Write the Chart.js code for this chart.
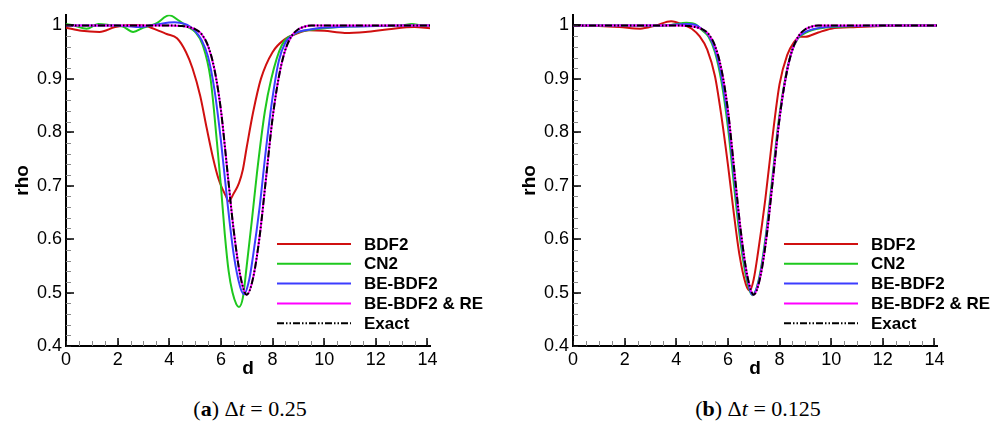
<!DOCTYPE html>
<html>
<head>
<meta charset="utf-8">
<script src="https://cdn.jsdelivr.net/npm/chart.js@4.4.0/dist/chart.umd.min.js"></script>
<style>
  body { margin: 0; background: #fff; width: 997px; height: 430px; position: relative; overflow: hidden; }
  .panel { position: absolute; top: 0; width: 490px; height: 380px; }
  .caption { position: absolute; top: 396px; width: 300px; text-align: center; font-family: 'Liberation Serif', serif; font-size: 22px; color: #000; }
</style>
</head>
<body>
<div class="panel" style="left:0"><canvas id="chartA"></canvas></div>
<div class="panel" style="left:507px"><canvas id="chartB"></canvas></div>
<div class="caption" style="left:100px">(<b>a</b>) &Delta;<i>t</i> = 0.25</div>
<div class="caption" style="left:608px">(<b>b</b>) &Delta;<i>t</i> = 0.125</div>
<script>
// ticks
var xTicks = [0, 2, 4, 6, 8, 10, 12, 14];
var yTicks = [0.4, 0.5, 0.6, 0.7, 0.8, 0.9, 1.0];
var yTickLabels = ['0.4', '0.5', '0.6', '0.7', '0.8', '0.9', '1'];
var labels = ['BDF2', 'CN2', 'BE-BDF2', 'BE-BDF2 & RE', 'Exact'];

// exact solution (same in both panels, BE-BDF2 & RE sits on it)
var xExact = [0, 1, 2, 3, 4, 4.5, 4.75, 5, 5.25, 5.5, 5.75, 6, 6.25, 6.5, 6.75, 7, 7.25, 7.5, 7.75, 8, 8.25, 8.5, 8.75, 9, 9.25, 9.5, 10, 11, 12, 13, 14.1];
var yExact = [1, 1, 1, 1, 1, 0.999, 0.997, 0.993, 0.984, 0.962, 0.918, 0.842, 0.728, 0.615, 0.532, 0.496, 0.528, 0.605, 0.715, 0.826, 0.905, 0.955, 0.981, 0.993, 0.998, 1, 1, 1, 1, 1, 1];

// panel (a) dt = 0.25
var xRedA = [0, 0.6, 1.3, 1.9, 2.5, 3.0, 3.6, 3.9, 4.3, 4.65, 4.9, 5.2, 5.45, 5.7, 5.9, 6.05, 6.18, 6.3, 6.5, 6.7, 6.85, 7.0, 7.25, 7.55, 8.0, 8.5, 8.9, 9.4, 10, 10.8, 11.6, 12.5, 13.5, 14.1];
var yRedA = [0.996, 0.99, 0.988, 0.997, 1.001, 1.0, 0.99, 0.984, 0.976, 0.95, 0.92, 0.868, 0.808, 0.751, 0.714, 0.695, 0.682, 0.671, 0.686, 0.705, 0.73, 0.772, 0.838, 0.9, 0.95, 0.975, 0.984, 0.991, 0.99, 0.986, 0.988, 0.993, 0.997, 0.995];
var xGreenA = [0, 0.3, 0.8, 1.25, 1.8, 2.2, 2.6, 3.0, 3.5, 4.0, 4.4, 4.7, 5.0, 5.3, 5.6, 5.85, 6.0, 6.15, 6.3, 6.45, 6.6, 6.7, 6.85, 7.0, 7.2, 7.4, 7.7, 7.95, 8.35, 8.9, 9.5, 10, 11, 12, 13, 13.4, 13.8, 14.1];
var yGreenA = [1.003, 1.0, 0.994, 1.003, 1.0, 0.998, 0.988, 0.996, 1.004, 1.019, 1.008, 0.998, 0.988, 0.963, 0.9, 0.78, 0.7, 0.61, 0.54, 0.5, 0.478, 0.473, 0.49, 0.55, 0.635, 0.725, 0.838, 0.9, 0.962, 0.985, 0.992, 0.995, 0.998, 0.999, 1.0, 1.003, 1.0, 1.0];
var xBlueA = [0, 1, 2, 2.8, 3.5, 4.2, 4.6, 4.8, 5, 5.25, 5.5, 5.75, 6, 6.25, 6.5, 6.75, 6.9, 7.1, 7.25, 7.5, 7.75, 8, 8.25, 8.5, 8.75, 9, 9.5, 10, 11, 12, 13, 14.1];
var yBlueA = [1, 1, 1, 0.997, 1.002, 1.006, 1.003, 0.998, 0.99, 0.973, 0.942, 0.88, 0.785, 0.67, 0.57, 0.51, 0.497, 0.525, 0.57, 0.66, 0.77, 0.865, 0.935, 0.968, 0.981, 0.988, 0.993, 0.996, 0.998, 0.999, 1, 1];

// panel (b) dt = 0.125
var xRedB = [0, 1, 1.8, 2.6, 3.2, 3.8, 4.3, 4.6, 4.9, 5.2, 5.5, 5.75, 6.0, 6.2, 6.45, 6.7, 6.85, 7.0, 7.17, 7.45, 7.7, 8.0, 8.3, 8.55, 8.8, 9.0, 9.5, 10, 11, 12, 13, 14.1];
var yRedB = [1.0, 0.999, 0.997, 0.994, 1.0, 1.008, 1.001, 0.994, 0.98, 0.955, 0.905, 0.83, 0.74, 0.66, 0.57, 0.515, 0.504, 0.525, 0.576, 0.675, 0.78, 0.89, 0.945, 0.968, 0.979, 0.979, 0.987, 0.994, 0.997, 0.999, 1.0, 1.0];
var xGreenB = [0, 1, 2, 3.2, 3.8, 4.4, 4.75, 5, 5.25, 5.5, 5.75, 6, 6.25, 6.5, 6.75, 6.95, 7.2, 7.45, 7.7, 7.95, 8.2, 8.45, 8.7, 9, 9.3, 9.6, 10, 11, 12, 13, 14.1];
var yGreenB = [1, 1, 1, 0.999, 1.001, 1.005, 1.002, 0.991, 0.979, 0.95, 0.895, 0.81, 0.695, 0.59, 0.52, 0.495, 0.525, 0.6, 0.705, 0.815, 0.895, 0.948, 0.975, 0.986, 0.992, 0.995, 0.997, 0.999, 1, 1, 1];
var xBlueB = [0, 1, 2, 3.2, 3.8, 4.4, 4.75, 5, 5.25, 5.5, 5.75, 6, 6.25, 6.5, 6.75, 6.95, 7.2, 7.45, 7.7, 7.95, 8.2, 8.45, 8.7, 9, 9.3, 9.6, 10, 11, 12, 13, 14.1];
var yBlueB = [1, 1, 1, 1, 1.001, 1.003, 1.001, 0.993, 0.982, 0.955, 0.905, 0.825, 0.712, 0.603, 0.527, 0.496, 0.522, 0.594, 0.698, 0.808, 0.892, 0.948, 0.976, 0.988, 0.993, 0.996, 0.998, 0.999, 1, 1, 1];

var colors = ['#d01010', '#1ec81e', '#3c3cff', '#ff00ff', '#000000'];
var exactDash = [7, 2, 1.5, 2, 1.5, 2];

function series(i, xs, ys) {
    return {
        label: labels[i],
        data: xs.map(function (v, k) { return { x: v, y: ys[k] }; }),
        borderColor: colors[i],
        borderWidth: 2,
        borderDash: i === 4 ? exactDash : [],
        pointRadius: 0,
        fill: false,
        cubicInterpolationMode: 'monotone',
        order: 4 - i
    };
}

// ticks drawn inside the axes, like the original plot
var innerTicks = {
    id: 'innerTicks',
    afterDraw: function (chart) {
        var ctx = chart.ctx, a = chart.chartArea, x = chart.scales.x, y = chart.scales.y;
        ctx.save();
        ctx.strokeStyle = '#8a8a8a';
        ctx.lineWidth = 1;
        ctx.beginPath();
        for (var i = 0; i <= 28; i++) {
            var px = Math.round(x.getPixelForValue(i * 0.5)) + 0.5;
            ctx.moveTo(px, a.bottom); ctx.lineTo(px, a.bottom - 5);
        }
        for (var j = 0; j <= 30; j++) {
            var py = Math.round(y.getPixelForValue(0.4 + j * 0.02)) + 0.5;
            ctx.moveTo(a.left, py); ctx.lineTo(a.left + 5, py);
        }
        ctx.stroke();
        ctx.strokeStyle = '#000';
        ctx.lineWidth = 1.5;
        ctx.beginPath();
        xTicks.forEach(function (v) {
            var px = Math.round(x.getPixelForValue(v));
            ctx.moveTo(px, a.bottom); ctx.lineTo(px, a.bottom - 8);
        });
        yTicks.forEach(function (v) {
            var py = Math.round(y.getPixelForValue(v));
            ctx.moveTo(a.left, py); ctx.lineTo(a.left + 8, py);
        });
        ctx.stroke();
        ctx.restore();
    }
};

// legend inside the plot, lower right
var lineLegend = {
    id: 'lineLegend',
    afterDraw: function (chart) {
        var ctx = chart.ctx, a = chart.chartArea;
        ctx.save();
        ctx.font = 'bold 17px "Liberation Sans", Arial, sans-serif';
        ctx.textBaseline = 'middle';
        chart.data.datasets.forEach(function (ds, i) {
            var yy = a.bottom - 102 + i * 19.8;
            ctx.strokeStyle = ds.borderColor;
            ctx.lineWidth = 2;
            ctx.setLineDash(ds.borderDash);
            ctx.beginPath();
            ctx.moveTo(a.right - 153, yy);
            ctx.lineTo(a.right - 79, yy);
            ctx.stroke();
            ctx.setLineDash([]);
            ctx.fillStyle = '#000';
            ctx.fillText(ds.label, a.right - 66, yy + 1);
        });
        ctx.restore();
    }
};

function makeOptions() {
    var tickFont = { family: 'Liberation Sans', size: 18 };
    var titleFont = { family: 'Liberation Sans', size: 19, weight: 'bold' };
    return {
        responsive: true,
        maintainAspectRatio: false,
        animation: false,
        layout: { padding: { top: 12, right: 60, bottom: 0, left: 0 } },
        plugins: { legend: { display: false }, tooltip: { enabled: false } },
        scales: {
            x: {
                type: 'linear', min: 0, max: 14.1,
                grid: { display: false, drawTicks: false },
                border: { display: true, color: '#000', width: 2 },
                ticks: { color: '#000', font: tickFont, padding: 3, maxRotation: 0, autoSkip: false },
                title: { display: true, text: 'd', color: '#000', font: titleFont, padding: { top: 0, bottom: 0 } },
                afterBuildTicks: function (s) { s.ticks = xTicks.map(function (v) { return { value: v }; }); },
                afterFit: function (s) { s.height = 34; }
            },
            y: {
                type: 'linear', min: 0.4, max: 1.02,
                grid: { display: false, drawTicks: false },
                border: { display: true, color: '#000', width: 2 },
                ticks: {
                    color: '#000', font: tickFont, padding: 4,
                    callback: function (v, i) { return yTickLabels[i]; }
                },
                title: { display: true, text: 'rho', color: '#000', font: titleFont, padding: { top: 11, bottom: 0 } },
                afterBuildTicks: function (s) { s.ticks = yTicks.map(function (v) { return { value: v }; }); },
                afterFit: function (s) { s.width = 66; }
            }
        }
    };
}

new Chart(document.getElementById('chartA').getContext('2d'), {
    type: 'line',
    data: {
        datasets: [
            series(0, xRedA, yRedA),
            series(1, xGreenA, yGreenA),
            series(2, xBlueA, yBlueA),
            series(3, xExact, yExact),
            series(4, xExact, yExact)
        ]
    },
    options: makeOptions(),
    plugins: [innerTicks, lineLegend]
});

new Chart(document.getElementById('chartB').getContext('2d'), {
    type: 'line',
    data: {
        datasets: [
            series(0, xRedB, yRedB),
            series(1, xGreenB, yGreenB),
            series(2, xBlueB, yBlueB),
            series(3, xExact, yExact),
            series(4, xExact, yExact)
        ]
    },
    options: makeOptions(),
    plugins: [innerTicks, lineLegend]
});
</script>
</body>
</html>
